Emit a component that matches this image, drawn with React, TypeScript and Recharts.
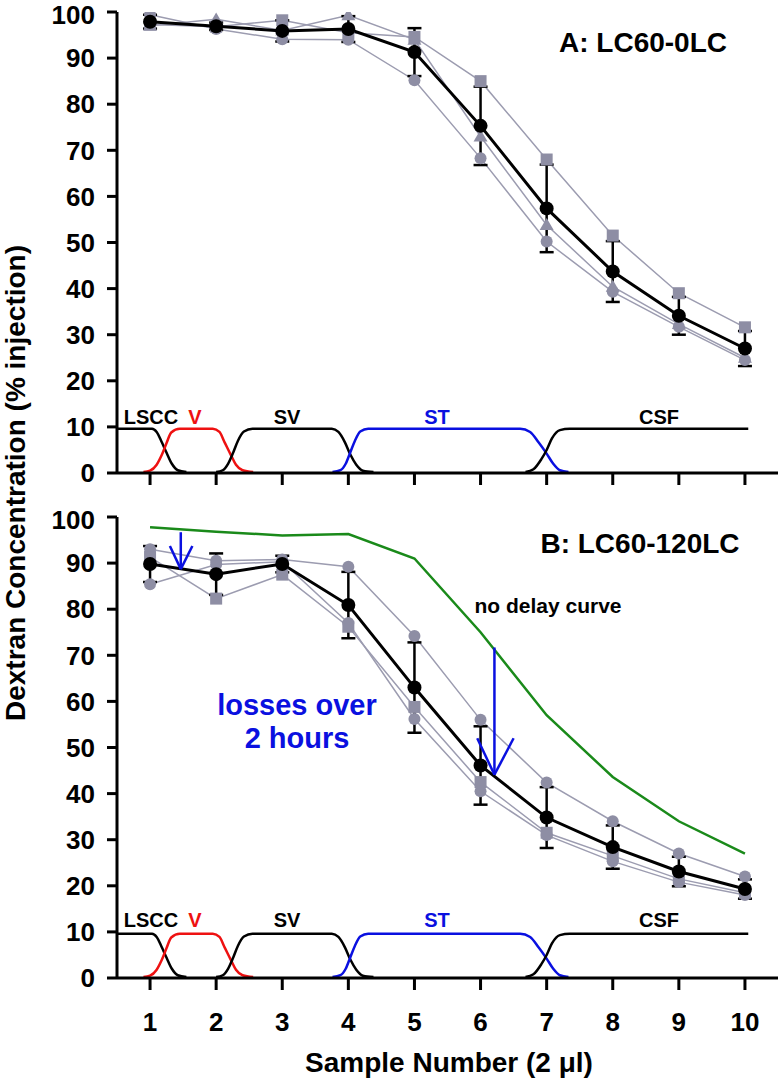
import { LineChart, Line, XAxis, YAxis, ErrorBar, ReferenceLine } from "recharts";

const samples = [1, 2, 3, 4, 5, 6, 7, 8, 9, 10];
const yTicks = [0, 10, 20, 30, 40, 50, 60, 70, 80, 90, 100];

// Panel A: LC60-0LC
const panelAMean = [97.9, 96.9, 95.9, 96.3, 91.3, 75.3, 57.4, 43.7, 34.1, 27.0];
const panelAErr = [1.5, 0.8, 2.3, 2.8, 5.2, 8.5, 9.5, 6.6, 4.1, 3.8];
const panelACircle = [99.4, 96.3, 94.1, 94.0, 85.2, 68.3, 50.2, 39.3, 31.7, 24.5];
const panelASquare = [97.3, 96.8, 98.2, 95.5, 94.6, 85.0, 68.0, 51.5, 39.0, 31.6];
const panelATriangle = [97.0, 98.4, 96.0, 99.3, 94.0, 73.0, 53.8, 40.4, 32.3, 25.0];

// Panel B: LC60-120LC
const panelBMean = [89.8, 87.6, 89.8, 80.9, 63.0, 46.1, 34.8, 28.4, 23.1, 19.3];
const panelBErr = [3.9, 4.5, 1.8, 7.2, 9.8, 8.5, 6.6, 4.7, 3.2, 2.1];
const panelBCircleHigh = [93.0, 90.5, 90.8, 89.2, 74.2, 56.0, 42.4, 34.0, 27.0, 22.0];
const panelBCircleLow = [85.4, 89.7, 90.3, 77.0, 56.2, 40.5, 31.0, 25.3, 20.8, 18.0];
const panelBSquare = [91.3, 82.3, 87.5, 76.2, 58.8, 42.5, 31.5, 26.5, 21.5, 18.5];
const noDelayCurve = [97.8, 96.8, 96.0, 96.3, 91.0, 75.0, 57.0, 43.6, 34.0, 27.0];

// region profiles along the sample axis (LSCC, V, SV, ST, CSF)
const lsccX = [0.5, 1.03, 1.1, 1.18, 1.25, 1.33, 1.42, 1.55];
const lsccY = [9.6, 9.6, 8.9, 6.6, 4.4, 2.0, 0.6, 0.2];
const vX = [0.9, 1.0, 1.1, 1.18, 1.25, 1.32, 1.45, 1.95, 2.05, 2.13, 2.22, 2.3, 2.4, 2.56];
const vY = [0.2, 0.5, 1.8, 4.0, 6.5, 8.8, 9.6, 9.6, 8.9, 6.6, 4.0, 1.8, 0.6, 0.2];
const svX = [2.0, 2.1, 2.18, 2.26, 2.33, 2.42, 2.55, 3.75, 3.85, 3.95, 4.03, 4.12, 4.22, 4.38];
const svY = [0.2, 0.6, 2.0, 4.5, 7.0, 9.0, 9.6, 9.6, 8.9, 6.6, 4.0, 1.8, 0.5, 0.2];
const stX = [3.76, 3.88, 3.96, 4.03, 4.1, 4.18, 4.3, 6.6, 6.75, 6.88, 7.0, 7.1, 7.2, 7.33];
const stY = [0.2, 0.6, 2.0, 4.5, 7.0, 9.0, 9.6, 9.6, 8.9, 6.6, 4.2, 2.0, 0.6, 0.2];
const csfX = [6.68, 6.8, 6.92, 7.0, 7.08, 7.2, 7.35, 10.05];
const csfY = [0.2, 0.8, 3.0, 5.0, 7.5, 9.3, 9.6, 9.6];

// loss arrows in panel B: [x1, y1, x2, y2]
const arrowSegments = [
  [1.465, 96.7, 1.465, 88.7],
  [1.3, 93.7, 1.465, 88.7],
  [1.64, 93.7, 1.465, 88.7],
  [6.21, 71.7, 6.21, 44.1],
  [5.95, 52.0, 6.21, 44.1],
  [6.5, 52.0, 6.21, 44.1],
];

const FONT = "'Liberation Sans', Arial, sans-serif";
const GRAY = "#8e8ea4";
const GRAY_LINE = "#9c9cb0";
const BLUE = "#0a10e0";

const zip = (xs: number[], ys: number[]) => xs.map((x, i) => ({ x, y: ys[i] }));

const regions = [
  { key: "lscc", data: zip(lsccX, lsccY), color: "#000" },
  { key: "v", data: zip(vX, vY), color: "#ee1111" },
  { key: "sv", data: zip(svX, svY), color: "#000" },
  { key: "st", data: zip(stX, stY), color: "#0a10e0" },
  { key: "csf", data: zip(csfX, csfY), color: "#000" },
];

const dataA = samples.map((x, i) => ({
  x,
  mean: panelAMean[i],
  err: panelAErr[i],
  circle: panelACircle[i],
  square: panelASquare[i],
  triangle: panelATriangle[i],
}));

const dataB = samples.map((x, i) => ({
  x,
  mean: panelBMean[i],
  err: panelBErr[i],
  circle: panelBCircleHigh[i],
  circle2: panelBCircleLow[i],
  square: panelBSquare[i],
  nodelay: noDelayCurve[i],
}));

const SquareDot = (props: any) => {
  const { cx, cy, index } = props;
  if (cx == null || cy == null) return null;
  return <rect key={`sq-${index}`} x={cx - 6} y={cy - 6} width={12} height={12} fill={GRAY} />;
};

const TriangleDot = (props: any) => {
  const { cx, cy, index } = props;
  if (cx == null || cy == null) return null;
  return (
    <polygon
      key={`tri-${index}`}
      points={`${cx},${cy - 7} ${cx - 7},${cy + 5} ${cx + 7},${cy + 5}`}
      fill={GRAY}
    />
  );
};

const tickStyle = { fontFamily: FONT, fontSize: 26, fontWeight: 700, fill: "#000" };

function Panel({ data, which, height, xHeight }: { data: any[]; which: "A" | "B"; height: number; xHeight: number }) {
  const grayDot = { r: 6, fill: GRAY, stroke: "none" };
  return (
    <LineChart width={779} height={height} data={data} margin={{ top: 12, right: 1, left: 0, bottom: 0 }}>
      <XAxis
        dataKey="x"
        type="number"
        domain={[0.5, 10.5]}
        ticks={samples}
        allowDataOverflow
        height={xHeight}
        axisLine={{ stroke: "#000", strokeWidth: 3 }}
        tickLine={{ stroke: "#000", strokeWidth: 3 }}
        tickSize={12}
        tickMargin={23}
        tick={tickStyle}
        tickFormatter={(v) => (which === "B" ? String(v) : "")}
      />
      <YAxis
        type="number"
        domain={[0, 100]}
        ticks={yTicks}
        width={117}
        axisLine={{ stroke: "#000", strokeWidth: 3 }}
        tickLine={{ stroke: "#000", strokeWidth: 3 }}
        tickSize={10}
        tickMargin={12}
        tick={tickStyle}
        allowDataOverflow
      />
      {regions.map((r) => (
        <Line
          key={r.key}
          data={r.data}
          dataKey="y"
          type="monotone"
          stroke={r.color}
          strokeWidth={2.5}
          dot={false}
          isAnimationActive={false}
        />
      ))}
      {which === "B" && (
        <Line dataKey="nodelay" type="linear" stroke="#1a8a1a" strokeWidth={2.5} dot={false} isAnimationActive={false} />
      )}
      <Line dataKey="circle" type="linear" stroke={GRAY_LINE} strokeWidth={1.5} dot={grayDot} isAnimationActive={false} />
      <Line dataKey="square" type="linear" stroke={GRAY_LINE} strokeWidth={1.5} dot={SquareDot} isAnimationActive={false} />
      {which === "A" ? (
        <Line dataKey="triangle" type="linear" stroke={GRAY_LINE} strokeWidth={1.5} dot={TriangleDot} isAnimationActive={false} />
      ) : (
        <Line dataKey="circle2" type="linear" stroke={GRAY_LINE} strokeWidth={1.5} dot={grayDot} isAnimationActive={false} />
      )}
      <Line
        dataKey="mean"
        type="linear"
        stroke="#000"
        strokeWidth={3}
        dot={{ r: 7, fill: "#000", stroke: "none" }}
        isAnimationActive={false}
      >
        <ErrorBar dataKey="err" direction="y" width={7} stroke="#000" strokeWidth={2.5} isAnimationActive={false} />
      </Line>
      {which === "B" &&
        arrowSegments.map((s, i) => (
          <ReferenceLine
            key={`arrow-${i}`}
            segment={[
              { x: s[0], y: s[1] },
              { x: s[2], y: s[3] },
            ]}
            stroke={BLUE}
            strokeWidth={2.5}
          />
        ))}
    </LineChart>
  );
}

export default function App() {
  const regionLabel = { fontFamily: FONT, fontSize: 20, fontWeight: 700 };
  const labelRows = [424, 927];
  return (
    <div style={{ position: "absolute", left: 0, top: 0, width: 779, height: 1080, background: "#fff" }}>
      <div style={{ position: "absolute", left: 0, top: 0 }}>
        <Panel data={dataA} which="A" height={500} xHeight={27} />
      </div>
      <div style={{ position: "absolute", left: 0, top: 505 }}>
        <Panel data={dataB} which="B" height={560} xHeight={87} />
      </div>
      <svg
        width={779}
        height={1080}
        style={{ position: "absolute", left: 0, top: 0, pointerEvents: "none" }}
      >
        <text x={643} y={52} textAnchor="middle" style={{ fontFamily: FONT, fontSize: 28, fontWeight: 700 }}>
          A: LC60-0LC
        </text>
        <text x={640} y={553} textAnchor="middle" style={{ fontFamily: FONT, fontSize: 28, fontWeight: 700 }}>
          B: LC60-120LC
        </text>
        <text x={548} y={613} textAnchor="middle" style={{ fontFamily: FONT, fontSize: 21, fontWeight: 700 }}>
          no delay curve
        </text>
        <text x={297} y={715} textAnchor="middle" fill={BLUE} style={{ fontFamily: FONT, fontSize: 29, fontWeight: 700 }}>
          losses over
        </text>
        <text x={297} y={748} textAnchor="middle" fill={BLUE} style={{ fontFamily: FONT, fontSize: 29, fontWeight: 700 }}>
          2 hours
        </text>
        {labelRows.map((y) => (
          <g key={y}>
            <text x={151} y={y} textAnchor="middle" style={regionLabel}>LSCC</text>
            <text x={195} y={y} textAnchor="middle" fill="#ee1111" style={regionLabel}>V</text>
            <text x={287} y={y} textAnchor="middle" style={regionLabel}>SV</text>
            <text x={437} y={y} textAnchor="middle" fill={BLUE} style={regionLabel}>ST</text>
            <text x={659} y={y} textAnchor="middle" style={regionLabel}>CSF</text>
          </g>
        ))}
        <text x={449} y={1072} textAnchor="middle" style={{ fontFamily: FONT, fontSize: 28, fontWeight: 700 }}>
          Sample Number (2 μl)
        </text>
        <text
          x={0}
          y={0}
          textAnchor="middle"
          transform="translate(25 483) rotate(-90)"
          style={{ fontFamily: FONT, fontSize: 28, fontWeight: 700 }}
        >
          Dextran Concentration (% injection)
        </text>
      </svg>
    </div>
  );
}
